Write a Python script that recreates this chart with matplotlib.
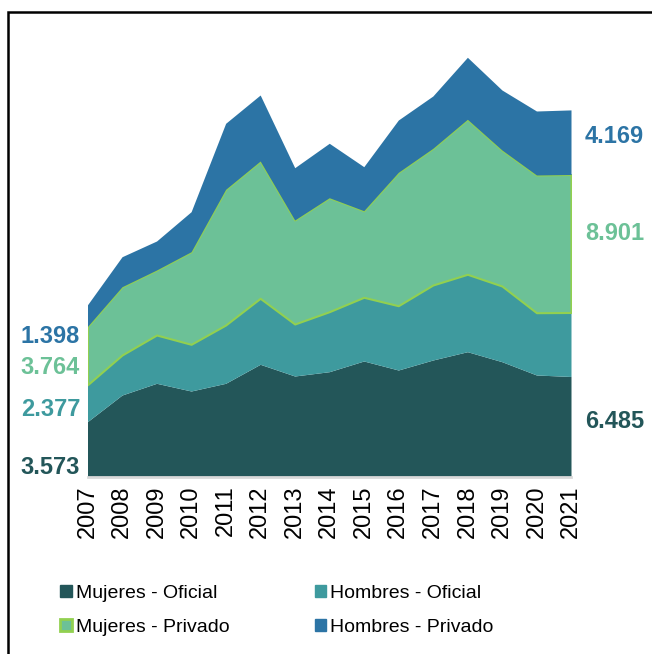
import matplotlib
matplotlib.use("Agg")
import matplotlib.pyplot as plt
from matplotlib.patches import Rectangle, Patch

years = [2007, 2008, 2009, 2010, 2011, 2012, 2013, 2014, 2015, 2016, 2017, 2018, 2019, 2020, 2021]
mujeres_oficial = [3573, 5290, 6045, 5548, 6045, 7271, 6516, 6794, 7484, 6903, 7548, 8084, 7439, 6581, 6485]
hombres_oficial = [2377, 2581, 3116, 3013, 3761, 4258, 3355, 3871, 4110, 4148, 4839, 4994, 4884, 4019, 4129]
mujeres_privado = [3764, 4406, 4194, 5974, 8755, 8858, 6710, 7355, 5587, 8606, 8819, 10000, 8774, 8884, 8901]
hombres_privado = [1398, 1935, 1871, 2581, 4258, 4258, 3374, 3510, 2839, 3374, 3374, 4000, 3871, 4129, 4169]
series_names = ["Mujeres - Oficial", "Hombres - Oficial", "Mujeres - Privado", "Hombres - Privado"]

c_mo = "#235659"
c_ho = "#3e9a9e"
c_mp = "#6cc197"
c_hp = "#2c74a5"
c_edge = "#92d050"

plt.rcParams['font.family'] = ['Liberation Sans', 'DejaVu Sans']

W, H = 652, 654
fig = plt.figure(figsize=(W / 100, H / 100), dpi=100)

# frame (extends beyond the visible crop)
fig.patches.append(Rectangle((8 / W, -0.2), 1.2, 1 - 12 / H + 0.2, transform=fig.transFigure,
                             fill=False, edgecolor="black", linewidth=1.8))

ax_left, ax_right = 87.5 / W, 571 / W
ax_bottom = 1 - 477 / H
ymax = 28000
ax_h = ymax * 0.0155 / H
ax = fig.add_axes([ax_left, ax_bottom, ax_right - ax_left, ax_h])

b0 = [0] * len(years)
b1 = mujeres_oficial
b2 = [a + b for a, b in zip(b1, hombres_oficial)]
b3 = [a + b for a, b in zip(b2, mujeres_privado)]
b4 = [a + b for a, b in zip(b3, hombres_privado)]

ax.fill_between(years, b0, b1, color=c_mo, linewidth=0)
ax.fill_between(years, b1, b2, color=c_ho, linewidth=0)
ax.fill_between(years, b2, b3, facecolor=c_mp, edgecolor=c_edge, linewidth=1.5)
ax.fill_between(years, b3, b4, color=c_hp, linewidth=0)

ax.set_xlim(years[0], years[-1])
ax.set_ylim(0, ymax)
for s in ax.spines.values():
    s.set_visible(False)
ax.axhline(0, color="#d9d9d9", linewidth=2, clip_on=False, zorder=5)
ax.set_yticks([])
ax.set_xticks(years)
ax.set_xticklabels([str(y) for y in years], rotation=90, fontsize=17)
ax.tick_params(axis='x', length=0, pad=6)
ax.patch.set_alpha(0)

# value labels
lab_kw = dict(fontsize=17, fontweight="bold")
left_labels = [(hombres_privado[0], c_hp, 336.7), (mujeres_privado[0], c_mp, 367.7),
               (hombres_oficial[0], c_ho, 410), (mujeres_oficial[0], c_mo, 468)]
for v, c, ypix in left_labels:
    fig.text(80 / W, 1 - ypix / H, f"{v/1000:.3f}", color=c, ha="right", va="center", **lab_kw)
right_labels = [(hombres_privado[-1], c_hp, 136.7), (mujeres_privado[-1], c_mp, 233),
                (mujeres_oficial[-1], c_mo, 421.7)]
for v, c, ypix in right_labels:
    fig.text(585 / W, 1 - ypix / H, f"{v/1000:.3f}", color=c, ha="left", va="center", **lab_kw)

handles = [Patch(facecolor=c_mo, edgecolor=c_mo), Patch(facecolor=c_mp, edgecolor=c_edge, linewidth=2),
           Patch(facecolor=c_ho, edgecolor=c_ho), Patch(facecolor=c_hp, edgecolor=c_hp)]
labels = [series_names[0], series_names[2], series_names[1], series_names[3]]
fig.legend(handles, labels, ncol=2, loc="upper left", bbox_to_anchor=(60 / W, 1 - 585 / H),
           frameon=False, fontsize=14, handlelength=0.6, handleheight=0.6,
           handletextpad=0.2, columnspacing=4.4, labelspacing=0.87, borderaxespad=0, borderpad=0)

fig.savefig("out.png", dpi=100)
